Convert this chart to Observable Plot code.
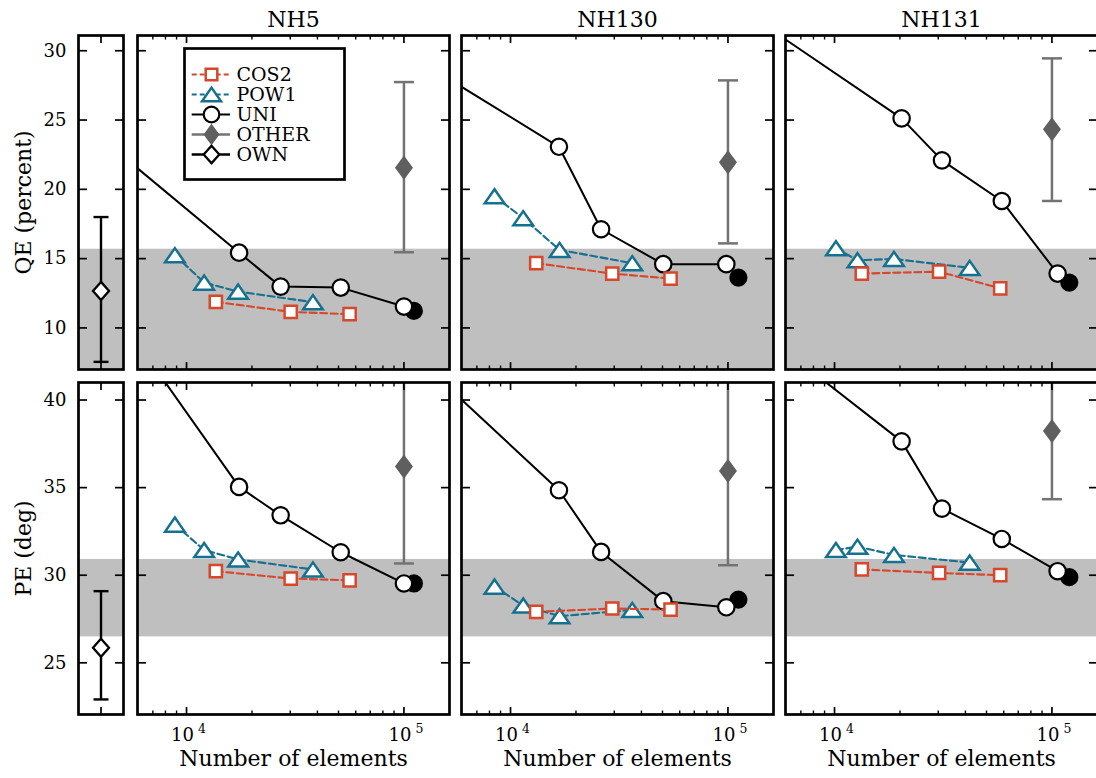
<!DOCTYPE html>
<html>
<head>
<meta charset="utf-8">
<script src="https://cdn.jsdelivr.net/npm/d3@7"></script>
<script src="https://cdn.jsdelivr.net/npm/@observablehq/plot@0.6"></script>
<style>
  body { margin: 0; background: #fff; }
  #chart { position: relative; width: 1096px; height: 778px; overflow: hidden; font-family: "DejaVu Serif", serif; }
  #chart svg { position: absolute; overflow: visible; background: transparent !important; max-width: none !important; }
</style>
</head>
<body>
<div id="chart"></div>
<script>
// ---- data -------------------------------------------------------------
const panels = ["NH5", "NH130", "NH131"];
const metricTitles = ["QE (percent)", "PE (deg)"];
const yTicks = [[10, 15, 20, 25, 30], [25, 30, 35, 40]];
const xMajor = [1e4, 1e5];
const xMinor = [7000, 8000, 9000, 20000, 30000, 40000, 50000, 60000, 70000, 80000, 90000];
const legendNames = ["COS2", "POW1", "UNI", "OTHER", "OWN"];

// UNI: uniform refinement (number of elements per mesh, per panel)
const uniN = [
  [5000, 17450, 27100, 51200, 100000],
  [5000, 16700, 26100, 50400, 98300],
  [5000, 20350, 31200, 58800, 106200]
];
const uniQE = [
  [22.5, 15.43, 12.98, 12.91, 11.54],
  [28.13, 23.07, 17.12, 14.6, 14.6],
  [31.62, 25.12, 22.09, 19.16, 13.92]
];
const uniPE = [
  [44.58, 35.04, 33.42, 31.31, 29.53],
  [40.9, 34.85, 31.33, 28.52, 28.17],
  [43.54, 37.64, 33.8, 32.07, 30.23]
];

// finest uniform mesh (filled marker)
const refN = [111100, 111700, 120200];
const refQE = [11.23, 13.63, 13.27];
const refPE = [29.53, 28.61, 29.89];

// COS2 adaptive meshes
const cos2N = [
  [13640, 30140, 56240],
  [13130, 29370, 54460],
  [13350, 30270, 57810]
];
const cos2QE = [
  [11.88, 11.16, 10.99],
  [14.67, 13.92, 13.56],
  [13.92, 14.06, 12.86]
];
const cos2PE = [
  [30.23, 29.81, 29.71],
  [27.91, 28.1, 28.04],
  [30.33, 30.13, 30.0]
];

// POW1 adaptive meshes
const pow1N = [
  [8840, 12050, 17270, 38150],
  [8440, 11440, 16810, 36310],
  [10150, 12750, 18770, 41840]
];
const pow1QE = [
  [15.25, 13.27, 12.62, 11.86],
  [19.5, 17.92, 15.63, 14.67],
  [15.75, 14.88, 14.98, 14.33]
];
const pow1PE = [
  [32.89, 31.44, 30.9, 30.33],
  [29.35, 28.27, 27.66, 28.02],
  [31.44, 31.63, 31.16, 30.72]
];

// OTHER: mean with error range, at 1e5 elements
const otherN = [100000, 100000, 100000];
const otherMean = [[21.56, 21.95, 24.33], [36.2, 35.95, 38.23]];
const otherLo = [[15.46, 16.1, 19.16], [30.67, 30.57, 34.34]];
const otherHi = [[27.74, 27.86, 29.45], [42.0, 42.0, 42.0]];

// OWN: mean with error range
const ownMean = [12.67, 25.86];
const ownLo = [7.55, 22.91];
const ownHi = [18.0, 29.09];

// shaded reference band per metric
const bandLo = [0, 26.48];
const bandHi = [15.68, 30.9];

// ---- styling & layout ---------------------------------------------------
const FONT = "'DejaVu Serif', serif";
const RED = "#d6472b";
const TEAL = "#16708f";
const GRAY_FILL = "#5f5f5f";
const GRAY_LINE = "#737373";
const BAND = "#bfbfbf";

const xDomain = [5950, 162000];
const yDomains = [[7, 31.1], [22.05, 41]];

const colLeft = [137.3, 461, 785];
const panelW = 312;
const rowTop = [34.5, 381.5];
const rowH = [334, 332];
const ownLeft = 77.5, ownW = 45;
const M = {top: 40, right: 14, bottom: 70, left: 20};

// marker shapes
const sym = (fn) => ({draw(ctx, size) { fn(ctx, Math.sqrt(size / Math.PI)); }});
const squareSym = sym((c, r) => { c.moveTo(-r, -r); c.lineTo(r, -r); c.lineTo(r, r); c.lineTo(-r, r); c.closePath(); });
const triSym = sym((c, r) => { const h = 0.72 * r; c.moveTo(0, -h); c.lineTo(r, h); c.lineTo(-r, h); c.closePath(); });
const diamondSym = (ratio) => sym((c, r) => { const h = r * ratio; c.moveTo(0, -h); c.lineTo(r, 0); c.lineTo(0, h); c.lineTo(-r, 0); c.closePath(); });
const capSym = sym((c, r) => { c.moveTo(-r, 0); c.lineTo(r, 0); });
const otherDiamond = diamondSym(1.35);
const ownDiamond = diamondSym(1.13);

const zip = (ns, vs) => ns.map((n, i) => ({n, v: vs[i]}));
const chart = document.getElementById("chart");
function place(svg, left, top) {
  svg.style.left = left + "px";
  svg.style.top = top + "px";
  chart.appendChild(svg);
}

// inward-pointing ticks on all four sides of a frame: each tick set sits on one
// edge (frameAnchor) and points toward the opposite side (anchor)
const noText = () => "";
const opposite = {top: "bottom", bottom: "top", left: "right", right: "left"};
function frameTicks(xMaj, xMin, yT) {
  const tk = {tickFormat: noText, label: null, strokeWidth: 1.7};
  const out = [];
  for (const edge of ["bottom", "top"]) {
    out.push(Plot.axisX(xMaj, {...tk, anchor: opposite[edge], frameAnchor: edge, tickSize: 8}));
    if (xMin) out.push(Plot.axisX(xMin, {...tk, anchor: opposite[edge], frameAnchor: edge, tickSize: 4.5, strokeWidth: 1.4}));
  }
  for (const edge of ["left", "right"]) {
    out.push(Plot.axisY(yT, {...tk, anchor: opposite[edge], frameAnchor: edge, tickSize: 8}));
  }
  return out;
}
const centered = {textAnchor: "middle", lineAnchor: "middle"};

// ---- main panels ---------------------------------------------------------
for (let r = 0; r < 2; r++) {
  const uniV = r === 0 ? uniQE : uniPE;
  const refV = r === 0 ? refQE : refPE;
  const cosV = r === 0 ? cos2QE : cos2PE;
  const powV = r === 0 ? pow1QE : pow1PE;
  for (let c = 0; c < 3; c++) {
    const uni = zip(uniN[c], uniV[c]);
    const cos = zip(cos2N[c], cosV[c]);
    const pow = zip(pow1N[c], powV[c]);
    const ref = [{n: refN[c], v: refV[c]}];
    const other = [{n: otherN[c], v: otherMean[r][c], lo: otherLo[r][c], hi: otherHi[r][c]}];

    const marks = [
      Plot.rect([{lo: bandLo[r], hi: bandHi[r]}], {x1: xDomain[0], x2: xDomain[1], y1: "lo", y2: "hi", fill: BAND, clip: true}),
      Plot.dot(ref, {x: "n", y: "v", r: 8.2, fill: "black", stroke: "black", strokeWidth: 1.8, clip: true}),
      Plot.line(uni, {x: "n", y: "v", stroke: "black", strokeWidth: 2, clip: true}),
      Plot.dot(uni, {x: "n", y: "v", r: 8.2, fill: "white", stroke: "black", strokeWidth: 2.2, clip: true}),
      Plot.line(pow, {x: "n", y: "v", stroke: TEAL, strokeWidth: 2.1, strokeDasharray: "7,3.5", clip: true}),
      Plot.dot(pow, {x: "n", y: "v", symbol: triSym, r: 9.8, fill: "white", stroke: TEAL, strokeWidth: 2.5, clip: true}),
      Plot.line(cos, {x: "n", y: "v", stroke: RED, strokeWidth: 2.1, strokeDasharray: "7,3.5", clip: true}),
      Plot.dot(cos, {x: "n", y: "v", symbol: squareSym, r: 6.1, fill: "white", stroke: RED, strokeWidth: 2.5, clip: true}),
      Plot.ruleX(other, {x: "n", y1: "lo", y2: "hi", stroke: GRAY_LINE, strokeWidth: 2.5, clip: true}),
      Plot.dot(other, {x: "n", y: "lo", symbol: capSym, r: 10, fill: "none", stroke: GRAY_LINE, strokeWidth: 2.5, clip: true}),
      Plot.dot(other, {x: "n", y: "hi", symbol: capSym, r: 10, fill: "none", stroke: GRAY_LINE, strokeWidth: 2.5, clip: true}),
      Plot.dot(other, {x: "n", y: "v", symbol: otherDiamond, r: 9, fill: GRAY_FILL, stroke: "none", clip: true}),
      ...frameTicks(xMajor, xMinor, yTicks[r]),
      Plot.frame({stroke: "black", strokeWidth: 2.7})
    ];
    if (r === 0) {
      marks.push(Plot.text([panels[c]], {...centered, text: d => d, frameAnchor: "top", dy: -15.5, fontSize: 22}));
    } else {
      marks.push(
        Plot.text(xMajor, {...centered, x: d => d, text: () => "10", frameAnchor: "bottom", dy: 20.7, dx: -4, fontSize: 18}),
        Plot.text(xMajor, {x: d => d, text: d => String(Math.round(Math.log10(d))), frameAnchor: "bottom", dy: 14, dx: 11.5, textAnchor: "start", lineAnchor: "middle", fontSize: 12.5}),
        Plot.text(["Number of elements"], {...centered, text: d => d, frameAnchor: "bottom", dy: 44.5, fontSize: 22})
      );
    }

    const svg = Plot.plot({
      width: M.left + panelW + M.right,
      height: M.top + rowH[r] + M.bottom,
      marginTop: M.top, marginRight: M.right, marginBottom: M.bottom, marginLeft: M.left,
      x: {type: "log", domain: xDomain},
      y: {domain: yDomains[r]},
      style: {background: "transparent", fontFamily: FONT, overflow: "visible", color: "black"},
      marks
    });
    place(svg, colLeft[c] - M.left, rowTop[r] - M.top);
  }
}

// ---- OWN panels (left column) ---------------------------------------------
const OL = 80;
for (let r = 0; r < 2; r++) {
  const own = [{x: 1, v: ownMean[r], lo: ownLo[r], hi: ownHi[r]}];
  const svg = Plot.plot({
    width: OL + ownW + 10,
    height: M.top + rowH[r] + M.bottom,
    marginTop: M.top, marginRight: 10, marginBottom: M.bottom, marginLeft: OL,
    x: {domain: [0, 2]},
    y: {domain: yDomains[r]},
    style: {background: "transparent", fontFamily: FONT, overflow: "visible", color: "black"},
    marks: [
      Plot.rect([{lo: bandLo[r], hi: bandHi[r]}], {x1: 0, x2: 2, y1: "lo", y2: "hi", fill: BAND, clip: true}),
      Plot.ruleX(own, {x: "x", y1: "lo", y2: "hi", stroke: "black", strokeWidth: 2.4}),
      Plot.dot(own, {x: "x", y: "lo", symbol: capSym, r: 7.5, fill: "none", stroke: "black", strokeWidth: 2.4}),
      Plot.dot(own, {x: "x", y: "hi", symbol: capSym, r: 7.5, fill: "none", stroke: "black", strokeWidth: 2.4}),
      Plot.dot(own, {x: "x", y: "v", symbol: ownDiamond, r: 8, fill: "white", stroke: "black", strokeWidth: 2.3}),
      ...frameTicks([1], null, yTicks[r]),
      Plot.axisY(yTicks[r], {anchor: "left", tickSize: 0, tickPadding: 12, label: null, fontSize: 18}),
      Plot.text([metricTitles[r]], {...centered, text: d => d, frameAnchor: "left", dx: -55, rotate: -90, fontSize: 22}),
      Plot.frame({stroke: "black", strokeWidth: 2.7})
    ]
  });
  place(svg, ownLeft - OL, rowTop[r] - M.top);
}

// ---- legend (inside NH5 QE panel) -------------------------------------------
const legendSpec = [
  {name: "COS2", line: RED, dash: "5,3", symbol: squareSym, r: 5.8, fill: "white", stroke: RED, sw: 2.5, lw: 2.1},
  {name: "POW1", line: TEAL, dash: "5,3", symbol: triSym, r: 9.5, fill: "white", stroke: TEAL, sw: 2.5, lw: 2.1},
  {name: "UNI", line: "black", dash: null, symbol: "circle", r: 7.8, fill: "white", stroke: "black", sw: 2.2, lw: 2},
  {name: "OTHER", line: GRAY_LINE, dash: null, symbol: otherDiamond, r: 8, fill: GRAY_FILL, stroke: "none", sw: 0, lw: 2.5},
  {name: "OWN", line: "black", dash: null, symbol: ownDiamond, r: 7.8, fill: "white", stroke: "black", sw: 2.3, lw: 2.3}
];
const legendMarks = [Plot.frame({fill: "white", stroke: "black", strokeWidth: 2.7})];
for (const e of legendSpec) {
  legendMarks.push(
    Plot.ruleY([e], {y: "name", x1: 7.7, x2: 46, stroke: e.line, strokeWidth: e.lw, strokeDasharray: e.dash}),
    Plot.dot([e], {x: 27, y: "name", symbol: e.symbol, r: e.r, fill: e.fill, stroke: e.stroke, strokeWidth: e.sw})
  );
}
legendMarks.push(Plot.text(legendSpec, {x: 52, y: "name", text: "name", textAnchor: "start", lineAnchor: "middle", fontSize: 19}));
const legend = Plot.plot({
  width: 160, height: 131, margin: 0,
  x: {domain: [0, 160], range: [0, 160], axis: null},
  y: {type: "point", domain: legendNames, range: [15.6, 115.6], axis: null},
  style: {background: "transparent", fontFamily: FONT, overflow: "visible", color: "black"},
  marks: legendMarks
});
place(legend, 184, 47.7);
</script>
</body>
</html>
